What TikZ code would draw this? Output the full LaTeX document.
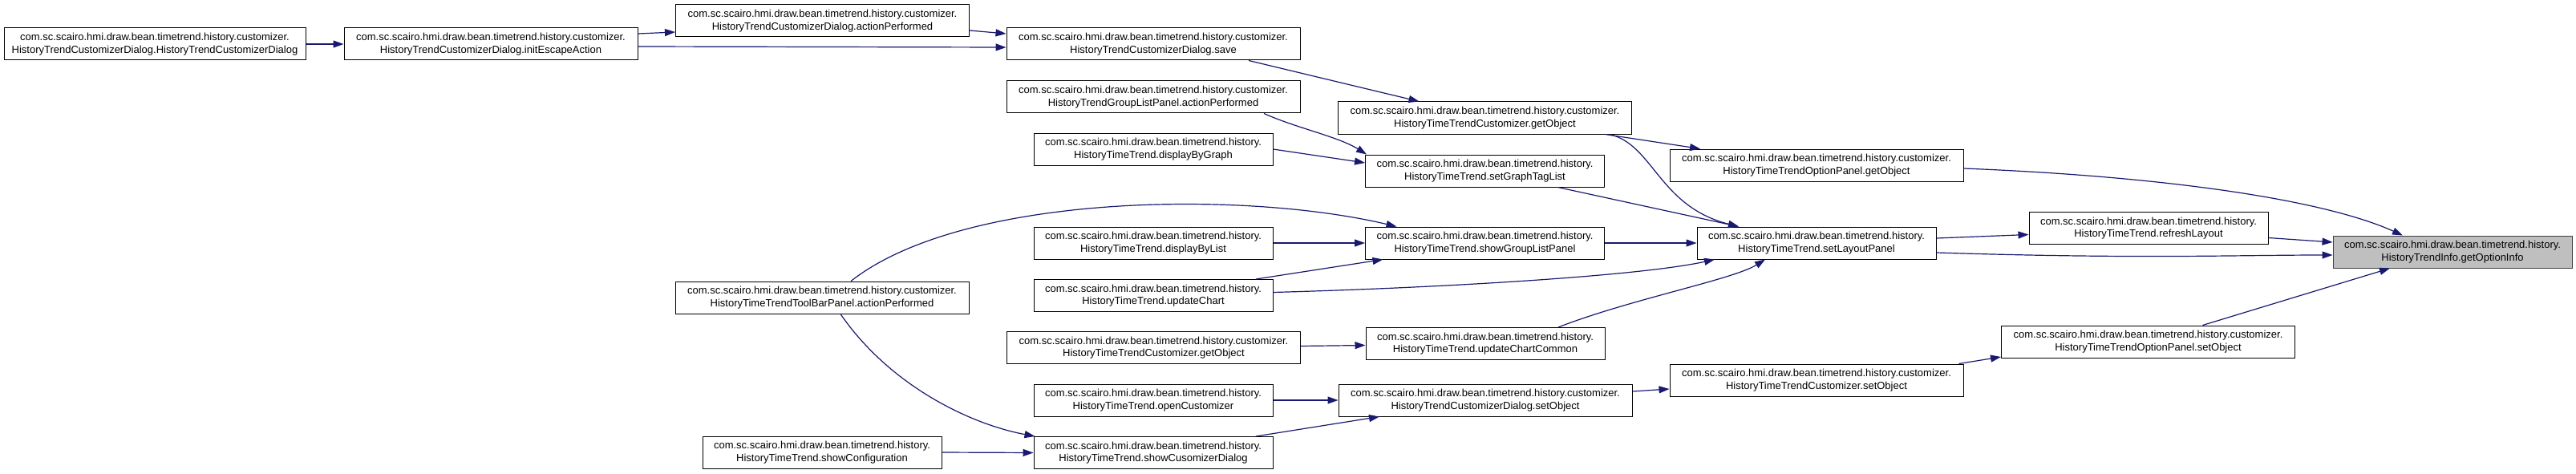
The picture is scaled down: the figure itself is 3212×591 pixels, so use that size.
\documentclass[tikz,border=0pt]{standalone}
\usepackage{fontspec}
\setmainfont{Liberation Sans}
\usetikzlibrary{arrows.meta,calc}
\definecolor{edgeblue}{HTML}{191970}
\definecolor{hotgray}{HTML}{BFBFBF}
\definecolor{hotline}{HTML}{404040}
\begin{document}
\begin{tikzpicture}[x=1pt,y=-1pt,
  fn/.style={draw=black, fill=white, line width=1pt, align=center,
    minimum height=40, inner sep=0pt,
    font=\fontsize{13}{15.6}\selectfont},
  hot/.style={fn, draw=hotline, fill=hotgray},
  call/.style={draw=edgeblue, line width=1.2pt,
    -{Triangle[length=13pt,width=9pt]}}]
  %% Package prefixes shared by every label.
  \def\pkg{com.sc.scairo.hmi.draw.bean.timetrend.history.}
  \def\cpkg{\pkg customizer.}
  %% Box widths for the two kinds of label.
  \def\wide{366}
  \def\narrow{298}

  %% Fix the page to the size of the graph.
  \useasboundingbox (0,0) rectangle (3212,591);

  %% Column 1 and 2.
  \node[fn, minimum width=376] (ctorDlg) at (193,55) {\cpkg\\HistoryTrendCustomizerDialog.HistoryTrendCustomizerDialog};
  \node[fn, minimum width=\wide] (escape) at (612,55) {\cpkg\\HistoryTrendCustomizerDialog.initEscapeAction};

  %% Column 3.
  \node[fn, minimum width=\wide] (dlgAction) at (1025.5,26) {\cpkg\\HistoryTrendCustomizerDialog.actionPerformed};
  \node[fn, minimum width=\wide] (toolbar) at (1025,371) {\cpkg\\HistoryTimeTrendToolBarPanel.actionPerformed};
  \node[fn, minimum width=\narrow] (showConf) at (1025,564) {\pkg\\HistoryTimeTrend.showConfiguration};

  %% Column 4.
  \node[fn, minimum width=\wide] (save) at (1438,55) {\cpkg\\HistoryTrendCustomizerDialog.save};
  \node[fn, minimum width=\wide] (grpAction) at (1438,121) {\cpkg\\HistoryTrendGroupListPanel.actionPerformed};
  \node[fn, minimum width=\narrow] (byGraph) at (1438,186) {\pkg\\HistoryTimeTrend.displayByGraph};
  \node[fn, minimum width=\narrow] (byList) at (1438,303) {\pkg\\HistoryTimeTrend.displayByList};
  \node[fn, minimum width=\narrow] (upChart) at (1438,368.5) {\pkg\\HistoryTimeTrend.updateChart};
  \node[fn, minimum width=\wide] (custGetB) at (1438.5,433.5) {\cpkg\\HistoryTimeTrendCustomizer.getObject};
  \node[fn, minimum width=\narrow] (openCust) at (1438,499) {\pkg\\HistoryTimeTrend.openCustomizer};
  \node[fn, minimum width=\narrow] (showDlg) at (1438,564.5) {\pkg\\HistoryTimeTrend.showCusomizerDialog};

  %% Column 5.
  \node[fn, minimum width=\wide] (custGet) at (1851.5,147) {\cpkg\\HistoryTimeTrendCustomizer.getObject};
  \node[fn, minimum width=\narrow] (tagList) at (1851.5,213) {\pkg\\HistoryTimeTrend.setGraphTagList};
  \node[fn, minimum width=\narrow] (grpPanel) at (1851.5,303) {\pkg\\HistoryTimeTrend.showGroupListPanel};
  \node[fn, minimum width=\narrow] (upCommon) at (1852,428.5) {\pkg\\HistoryTimeTrend.updateChartCommon};
  \node[fn, minimum width=\wide] (dlgSet) at (1852,499) {\cpkg\\HistoryTrendCustomizerDialog.setObject};

  %% Column 6.
  \node[fn, minimum width=\wide] (optGet) at (2265,206) {\cpkg\\HistoryTimeTrendOptionPanel.getObject};
  \node[fn, minimum width=\narrow] (layout) at (2265,303) {\pkg\\HistoryTimeTrend.setLayoutPanel};
  \node[fn, minimum width=\wide] (custSet) at (2265,474) {\cpkg\\HistoryTimeTrendCustomizer.setObject};

  %% Column 7 and the function itself.
  \node[fn, minimum width=\narrow] (refresh) at (2679,284.5) {\pkg\\HistoryTimeTrend.refreshLayout};
  \node[fn, minimum width=\wide] (optSet) at (2678.5,426) {\cpkg\\HistoryTimeTrendOptionPanel.setObject};
  \node[hot, minimum width=\narrow] (info) at (3058,314) {\pkg\\HistoryTrendInfo.getOptionInfo};

  %% Calls in the upper part.
  \draw[call] (ctorDlg.east) -- (escape.west);
  \draw[call] ($(escape.east)+(0,-13)$) -- ($(dlgAction.west)+(0,14)$);
  \draw[call] ($(escape.east)+(0,3)$) -- ($(save.west)+(0,4)$);
  \draw[call] ($(dlgAction.east)+(0,12)$) -- ($(save.west)+(0,-13)$);
  \draw[call] ($(save.south)+(119,0)$) -- ($(custGet.north)+(-82,0)$);
  \draw[call] ($(grpAction.south)+(138,0)$) .. controls +(40,18) and +(-35,-22) .. ($(tagList.north west)+(2,0)$);
  \draw[call] (byGraph.east) -- ($(tagList.west)+(0,-10)$);
  \draw[call] ($(custGet.south)+(150,0)$) -- ($(optGet.north)+(-145,0)$);
  \draw[call] ($(custGet.south)+(155,0)$) .. controls +(55,12) and +(-100,-25) .. ($(layout.north)+(-97,0)$);
  \draw[call] ($(tagList.south)+(91,0)$) -- ($(layout.north)+(-97,0)$);
  \draw[call] ($(optGet.east)+(0,4)$) .. controls +(250,10) and +(-100,-45) .. ($(info.north)+(-62,0)$);

  %% Calls around setLayoutPanel.
  \draw[call] (byList.east) -- (grpPanel.west);
  \draw[call] ($(upChart.north)+(128,0)$) -- ($(grpPanel.south)+(-127,0)$);
  \draw[call] ($(upChart.east)+(0,-4)$) .. controls +(220,-6) and +(-90,20) .. ($(layout.south)+(-127,0)$);
  \draw[call] ($(toolbar.north)+(36,0)$) .. controls +(140,-110) and +(-190,-45) .. ($(grpPanel.north)+(-110,0)$);
  \draw[call] (grpPanel.east) -- (layout.west);
  \draw[call] ($(layout.east)+(0,-6)$) -- ($(refresh.west)+(0,8)$);
  \draw[call] ($(layout.east)+(0,12)$) .. controls +(250,8) and +(-120,0) .. ($(info.west)+(0,4)$);
  \draw[call] ($(refresh.east)+(0,12)$) -- ($(info.west)+(0,-12)$);
  \draw[call] ($(custGetB.east)+(0,-2)$) -- ($(upCommon.west)+(0,2)$);
  \draw[call] ($(upCommon.north)+(91,0)$) .. controls +(90,-35) and +(-40,25) .. ($(layout.south)+(-64,0)$);

  %% Calls in the lower part.
  \draw[call] ($(toolbar.south)+(23,0)$) .. controls +(62,90) and +(-80,-15) .. ($(showDlg.north west)+(2,0)$);
  \draw[call] (showConf.east) -- (showDlg.west);
  \draw[call] (openCust.east) -- (dlgSet.west);
  \draw[call] ($(showDlg.north)+(128,0)$) -- ($(dlgSet.south)+(-132,0)$);
  \draw[call] ($(dlgSet.east)+(0,-11)$) -- ($(custSet.west)+(0,11)$);
  \draw[call] ($(custSet.north east)+(-6,0)$) -- ($(optSet.west)+(0,19)$);
  \draw[call] ($(optSet.north)+(68,0)$) -- ($(info.south)+(-78,0)$);
\end{tikzpicture}
\end{document}
